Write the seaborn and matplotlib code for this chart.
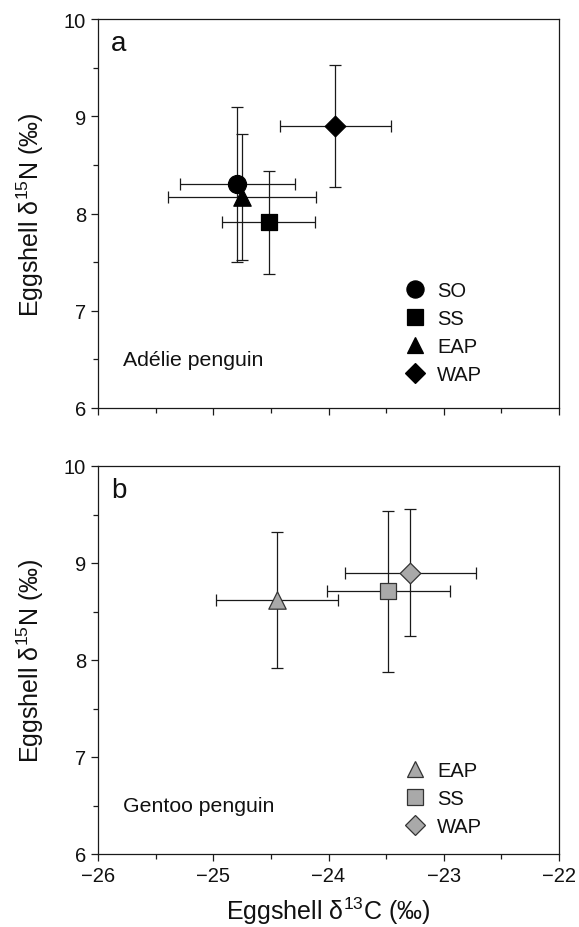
import numpy as np
import pandas as pd
import matplotlib
matplotlib.use("Agg")
import matplotlib.pyplot as plt
import seaborn as sns
from matplotlib.lines import Line2D
from matplotlib.ticker import MultipleLocator

# ---- data ----
adelie_regions = ["SO", "SS", "EAP", "WAP"]
adelie_c13 = [-24.79, -24.52, -24.75, -23.94]
adelie_c13_sd = [0.50, 0.40, 0.645, 0.485]
adelie_n15 = [8.30, 7.91, 8.17, 8.90]
adelie_n15_sd = [0.80, 0.53, 0.645, 0.625]

gentoo_regions = ["EAP", "SS", "WAP"]
gentoo_c13 = [-24.45, -23.48, -23.29]
gentoo_c13_sd = [0.53, 0.53, 0.57]
gentoo_n15 = [8.62, 8.71, 8.90]
gentoo_n15_sd = [0.70, 0.83, 0.655]

x_ticks = [-26, -25, -24, -23, -22]
y_ticks = [6, 7, 8, 9, 10]

sns.set_theme(style="white")
plt.rcParams["font.family"] = ["Liberation Sans", "DejaVu Sans"]
plt.rcParams["mathtext.fontset"] = "custom"
plt.rcParams["mathtext.rm"] = "Liberation Sans"
for key in ["text.color", "axes.labelcolor", "xtick.color", "ytick.color"]:
    plt.rcParams[key] = "#111111"

markers = {"SO": "o", "SS": "s", "EAP": "^", "WAP": "D"}
sizes = {"o": 13, "s": 11.5, "^": 12.5, "D": 10.5}

fig = plt.figure(figsize=(5.79, 9.28), dpi=100)
ax_a = fig.add_axes([98 / 579, 1 - 409 / 928, 461 / 579, 389 / 928])
ax_b = fig.add_axes([98 / 579, 1 - 855 / 928, 461 / 579, 388 / 928])


def draw_panel(ax, regions, cx, cxe, ny, nye, face, edge, letter, species, leg_y):
    df = pd.DataFrame({"region": regions, "c13": cx, "n15": ny})
    ax.errorbar(df["c13"], df["n15"], xerr=cxe, yerr=nye, fmt="none",
                ecolor="#1a1a1a", elinewidth=0.9, capsize=4.5, capthick=0.9, zorder=2)
    for r in regions:
        sub = df[df["region"] == r]
        m = markers[r]
        sns.scatterplot(data=sub, x="c13", y="n15", ax=ax, marker=m,
                        s=sizes[m] ** 2, color=face, edgecolor=edge,
                        linewidth=0.9, zorder=3, legend=False)
    ax.set_xlim(-26, -22)
    ax.set_ylim(6, 10)
    ax.set_xticks(x_ticks)
    ax.set_yticks(y_ticks)
    ax.xaxis.set_minor_locator(MultipleLocator(0.5))
    ax.yaxis.set_minor_locator(MultipleLocator(0.5))
    ax.tick_params(axis="both", which="major", direction="out", length=5, width=0.9,
                   color="#1a1a1a", labelsize=14.5, bottom=True, left=True, pad=3.5)
    ax.tick_params(axis="both", which="minor", direction="out", length=3.5, width=0.9,
                   color="#1a1a1a", bottom=True, left=True)
    for sp in ax.spines.values():
        sp.set_color("#1a1a1a")
        sp.set_linewidth(0.9)
    ax.set_ylabel("Eggshell δ$^{15}$N (‰)", fontsize=18, labelpad=13)
    ax.set_xlabel("")
    ax.text(0.028, 0.972, letter, transform=ax.transAxes, fontsize=20,
            va="top", ha="left")
    ax.text(0.055, 0.125, species, transform=ax.transAxes, fontsize=15.3,
            va="center", ha="left")
    handles = [Line2D([], [], linestyle="none", marker=markers[r],
                      markersize=sizes[markers[r]] * 0.95, markerfacecolor=face,
                      markeredgecolor=edge, markeredgewidth=0.9) for r in regions]
    ax.legend(handles, regions, loc="center left", bbox_to_anchor=(0.631, leg_y),
              frameon=False, fontsize=14.5, handlelength=0.8, handletextpad=0.7,
              labelspacing=0.45, borderpad=0.4)


draw_panel(ax_a, adelie_regions, adelie_c13, adelie_c13_sd, adelie_n15, adelie_n15_sd,
           "black", "black", "a", "Adélie penguin", 0.195)
draw_panel(ax_b, gentoo_regions, gentoo_c13, gentoo_c13_sd, gentoo_n15, gentoo_n15_sd,
           "#a9a9a9", "#333333", "b", "Gentoo penguin", 0.143)

ax_a.tick_params(axis="x", labelbottom=False)
ax_b.set_xlabel("Eggshell δ$^{13}$C (‰)", fontsize=18, labelpad=7)

fig.savefig("out.png", dpi=100, facecolor="white")
